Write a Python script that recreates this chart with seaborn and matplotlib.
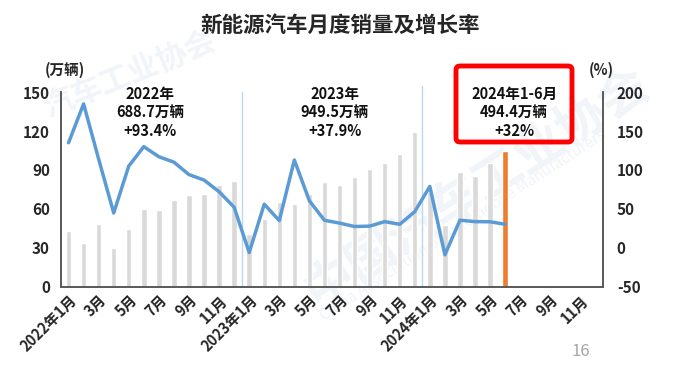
import numpy as np
import pandas as pd
import matplotlib
matplotlib.use("Agg")
import matplotlib.pyplot as plt
from matplotlib.patches import FancyBboxPatch
import seaborn as sns

# ---- data ----
month_labels = ["2022年1月", "3月", "5月", "7月", "9月", "11月",
                "2023年1月", "3月", "5月", "7月", "9月", "11月",
                "2024年1月", "3月", "5月", "7月", "9月", "11月"]
sales = [43.1, 33.4, 48.4, 29.9, 44.7, 59.6, 59.3, 66.6, 70.8, 71.4, 78.6, 81.4,
         40.8, 52.5, 65.3, 63.6, 71.7, 80.6, 78.0, 84.6, 90.4, 95.6, 102.6, 119.1,
         72.9, 47.7, 88.3, 85.0, 95.5, 104.9]
growth = [135.0, 185.0, 114.0, 44.6, 105.0, 130.0, 117.0, 110.0, 94.0, 87.0, 72.0, 52.0,
          -6.3, 55.9, 34.8, 112.8, 60.2, 35.2, 31.6, 27.2, 27.7, 33.5, 30.0, 46.4,
          78.8, -9.2, 35.3, 33.5, 33.3, 30.1]
n_slots = 36
year_notes = [("2022年\n688.7万辆\n+93.4%", 5.4),
              ("2023年\n949.5万辆\n+37.9%", 17.7),
              ("2024年1-6月\n494.4万辆\n+32%", 29.6)]

sns.set_theme(style="white")
plt.rcParams['font.family'] = ['Noto Sans CJK SC', 'DejaVu Sans']
plt.rcParams['axes.unicode_minus'] = False

df = pd.DataFrame({"m": list(range(len(sales))), "sales": sales,
                   "grp": ["past"] * (len(sales) - 1) + ["now"]})
dfl = pd.DataFrame({"m": list(range(len(growth))), "growth": growth})

fig = plt.figure(figsize=(6.81, 3.75), dpi=100)

# very faint watermark (behind everything)
wmc = "#F1F4F8"
fig.text(0.19, 0.80, "汽车工业协会", fontsize=22, rotation=22, color=wmc,
         fontweight="bold", ha="center", va="center", zorder=-5)
fig.text(0.70, 0.50, "中国汽车工业协会", fontsize=36, rotation=33, color=wmc,
         fontweight="bold", ha="center", va="center", zorder=-5)
fig.text(0.68, 0.40, "China Association of Automobile Manufacturers", fontsize=11,
         rotation=33, color=wmc, ha="center", va="center", zorder=-5)

ax = fig.add_axes([0.0896, 0.236, 0.7958, 0.518])
ax.patch.set_alpha(0)

sns.barplot(data=df, x="m", y="sales", hue="grp", order=list(range(n_slots)),
            palette={"past": "#D9D9D9", "now": "#ED7D31"}, dodge=False,
            width=0.36, legend=False, ax=ax, saturation=1)
ax.set_xlim(-0.5, n_slots - 0.5)
ax.set_ylim(0, 150)
ax.set_yticks([0, 30, 60, 90, 120, 150])
ax.set_xticks(list(range(0, n_slots, 2)))
ax.set_xticklabels(month_labels, rotation=45, ha="right", rotation_mode="anchor",
                   fontsize=10.5, fontweight="bold")
for lab in ax.get_yticklabels():
    lab.set_fontweight("bold"); lab.set_fontsize(11)
ax.set_xlabel(""); ax.set_ylabel("")
ax.tick_params(axis="both", length=0, pad=8)
ax.tick_params(axis="x", pad=4)

ax.axvline(11.5, ymin=0, ymax=1.0, color="#BDD7EE", lw=1, zorder=0.5)
ax.axvline(23.5, ymin=0, ymax=1.03, color="#BDD7EE", lw=1, zorder=0.5, clip_on=False)

ax2 = ax.twinx()
sns.lineplot(data=dfl, x="m", y="growth", color="#5B9BD5", lw=2.5, ax=ax2)
ax2.set_ylim(-50, 200)
ax2.set_yticks([-50, 0, 50, 100, 150, 200])
ax2.set_xlim(-0.5, n_slots - 0.5)
ax2.set_ylabel("")
for lab in ax2.get_yticklabels():
    lab.set_fontweight("bold"); lab.set_fontsize(11)
ax2.tick_params(axis="y", length=0, pad=10)

for a in (ax, ax2):
    a.spines["top"].set_visible(False)
    for s in ["left", "bottom", "right"]:
        a.spines[s].set_color("#595959")
        a.spines[s].set_linewidth(1.2)

for txt, xpos in year_notes:
    ax.text(xpos, 134.5, txt, ha="center", va="center", fontsize=10.5, fontweight="bold",
            linespacing=1.2, color="#111111")

# red highlight box
box = FancyBboxPatch((456, 375 - 142), 116, 76, boxstyle="round,pad=0,rounding_size=4",
                     transform=None, fill=False, ec="#FF0000", lw=3.5, zorder=5)
fig.patches.append(box)

fig.text(65 / 681, 1 - 70 / 375, "(万辆)", ha="center", va="center", fontsize=10.5, fontweight="bold")
fig.text(601 / 681, 1 - 70 / 375, "(%)", ha="center", va="center", fontsize=10.5, fontweight="bold")
fig.suptitle("新能源汽车月度销量及增长率", x=0.5, y=1 - 25 / 375, va="center",
             fontsize=15.5, fontweight="bold")
fig.text(581 / 681, 1 - 352 / 375, "16", ha="center", va="center", fontsize=12, color="#A6A6A6")

fig.savefig("out.png", dpi=100)
